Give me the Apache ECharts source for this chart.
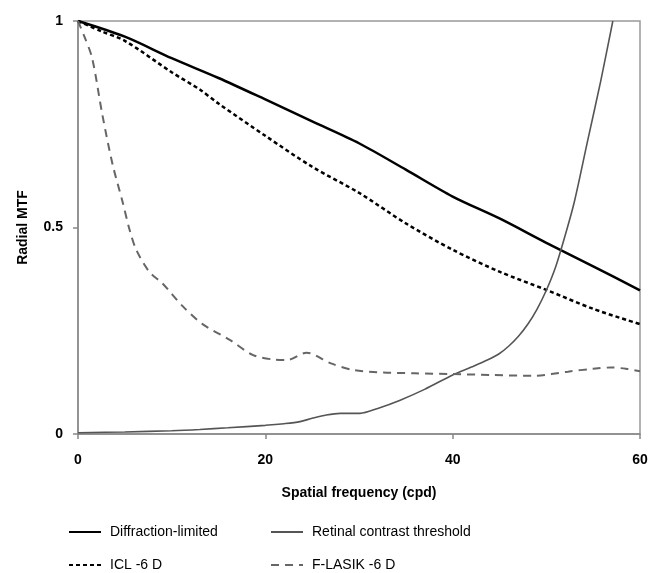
<!DOCTYPE html>
<html>
<head>
<meta charset="utf-8">
<script src="https://cdn.jsdelivr.net/npm/echarts@6/dist/echarts.min.js"></script>
<style>html,body{margin:0;padding:0;background:#fff}#c{width:651px;height:573px}</style>
</head>
<body>
<div id="c"></div>
<script>
var diffX = [0,5,10,15,20,25,30,35,40,45,50,55,60];
var diffY = [1,0.962,0.91,0.862,0.81,0.757,0.704,0.640,0.575,0.522,0.463,0.406,0.348];

var iclX = [0,2.5,5,10,13,15,20,25,30,35,40,45,50,55,60];
var iclY = [1,0.975,0.952,0.876,0.834,0.80,0.722,0.647,0.584,0.51,0.446,0.393,0.349,0.303,0.266];

var retX = [0,5,10,13,16,20,22,23.7,25,26.5,28,30.1,32,34.4,37,40,42,43.7,45,46,47,48,49,50,51,52,53,54.4,55.8,57.1];
var retY = [0.003,0.005,0.008,0.011,0.015,0.021,0.025,0.030,0.038,0.046,0.050,0.050,0.062,0.082,0.108,0.143,0.162,0.179,0.195,0.213,0.236,0.265,0.302,0.348,0.405,0.48,0.563,0.709,0.854,1.0];

var lasX = [0,0.6,1.5,2.6,3.7,4.75,5.5,6.2,7.6,9,11.2,13.3,16.2,18.7,21,22.3,24.4,27,29.4,32.6,36,40,44,48.7,52.3,55,56.9,58.5,60];
var lasY = [1,0.967,0.911,0.773,0.652,0.563,0.495,0.447,0.393,0.365,0.309,0.266,0.228,0.191,0.180,0.179,0.197,0.171,0.155,0.149,0.147,0.145,0.143,0.141,0.151,0.158,0.161,0.158,0.152];

var names = ['Diffraction-limited','ICL -6 D','Retinal contrast threshold','F-LASIK -6 D'];
var xTicks = [0,20,40,60];
var yTicks = [0,0.5,1];

function pairs(xs, ys){ return xs.map(function(x,i){ return [x, ys[i]]; }); }

var font = '"Liberation Sans", Arial, sans-serif';
function leg(name, left, top){
  return {data: [name], left: left, top: top, padding: 0, itemWidth: 32, itemHeight: 14, itemGap: 0,
    itemStyle: {opacity: 0},
    textStyle: {fontFamily: font, fontSize: 14, color: '#000', padding: [0,0,0,4]}};
}
var chart = echarts.init(document.getElementById('c'));
chart.setOption({
  animation: false,
  backgroundColor: '#fff',
  grid: {left: 78, right: 11, top: 21, bottom: 139, show: true, borderColor: '#999', borderWidth: 1.5},
  xAxis: {
    type: 'value', min: 0, max: 60, interval: 20,
    name: 'Spatial frequency (cpd)', nameLocation: 'middle', nameGap: 52,
    nameTextStyle: {fontFamily: font, fontWeight: 'bold', fontSize: 14, color: '#000'},
    axisLine: {lineStyle: {color: '#888', width: 1.5}},
    axisTick: {show: true, length: 5, lineStyle: {color: '#888', width: 1.5}},
    axisLabel: {margin: 19, fontFamily: font, fontWeight: 'bold', fontSize: 14, color: '#000',
      formatter: function(v){ return xTicks.indexOf(v) >= 0 ? String(v) : ''; }},
    splitLine: {show: false}
  },
  yAxis: {
    type: 'value', min: 0, max: 1, interval: 0.5,
    name: 'Radial MTF', nameLocation: 'middle', nameGap: 48,
    nameTextStyle: {fontFamily: font, fontWeight: 'bold', fontSize: 14, color: '#000'},
    axisLine: {show: true, lineStyle: {color: '#888', width: 1.5}},
    axisTick: {show: true, length: 5, lineStyle: {color: '#888', width: 1.5}},
    axisLabel: {margin: 15, fontFamily: font, fontWeight: 'bold', fontSize: 14, color: '#000',
      formatter: function(v){ return yTicks.indexOf(v) >= 0 ? String(v) : ''; }},
    splitLine: {show: false}
  },
  legend: [
    leg(names[0], 68, 525),
    leg(names[1], 68, 558),
    leg(names[2], 270, 525),
    leg(names[3], 270, 558)
  ],
  series: [
    {name: names[0], type: 'line', data: pairs(diffX, diffY), smooth: 0.3, symbol: 'none',
     lineStyle: {color: '#000', width: 2.5, type: 'solid'}, itemStyle: {color: '#000'}},
    {name: names[1], type: 'line', data: pairs(iclX, iclY), smooth: 0.3, symbol: 'none',
     lineStyle: {color: '#000', width: 2.5, type: [4, 3]}, itemStyle: {color: '#000'}},
    {name: names[2], type: 'line', data: pairs(retX, retY), smooth: 0.3, symbol: 'none',
     lineStyle: {color: '#555', width: 1.6, type: 'solid'}, itemStyle: {color: '#555'}},
    {name: names[3], type: 'line', data: pairs(lasX, lasY), smooth: 0.3, symbol: 'none',
     lineStyle: {color: '#666', width: 2, type: [8, 6]}, itemStyle: {color: '#666'}}
  ]
});
</script>
</body>
</html>
